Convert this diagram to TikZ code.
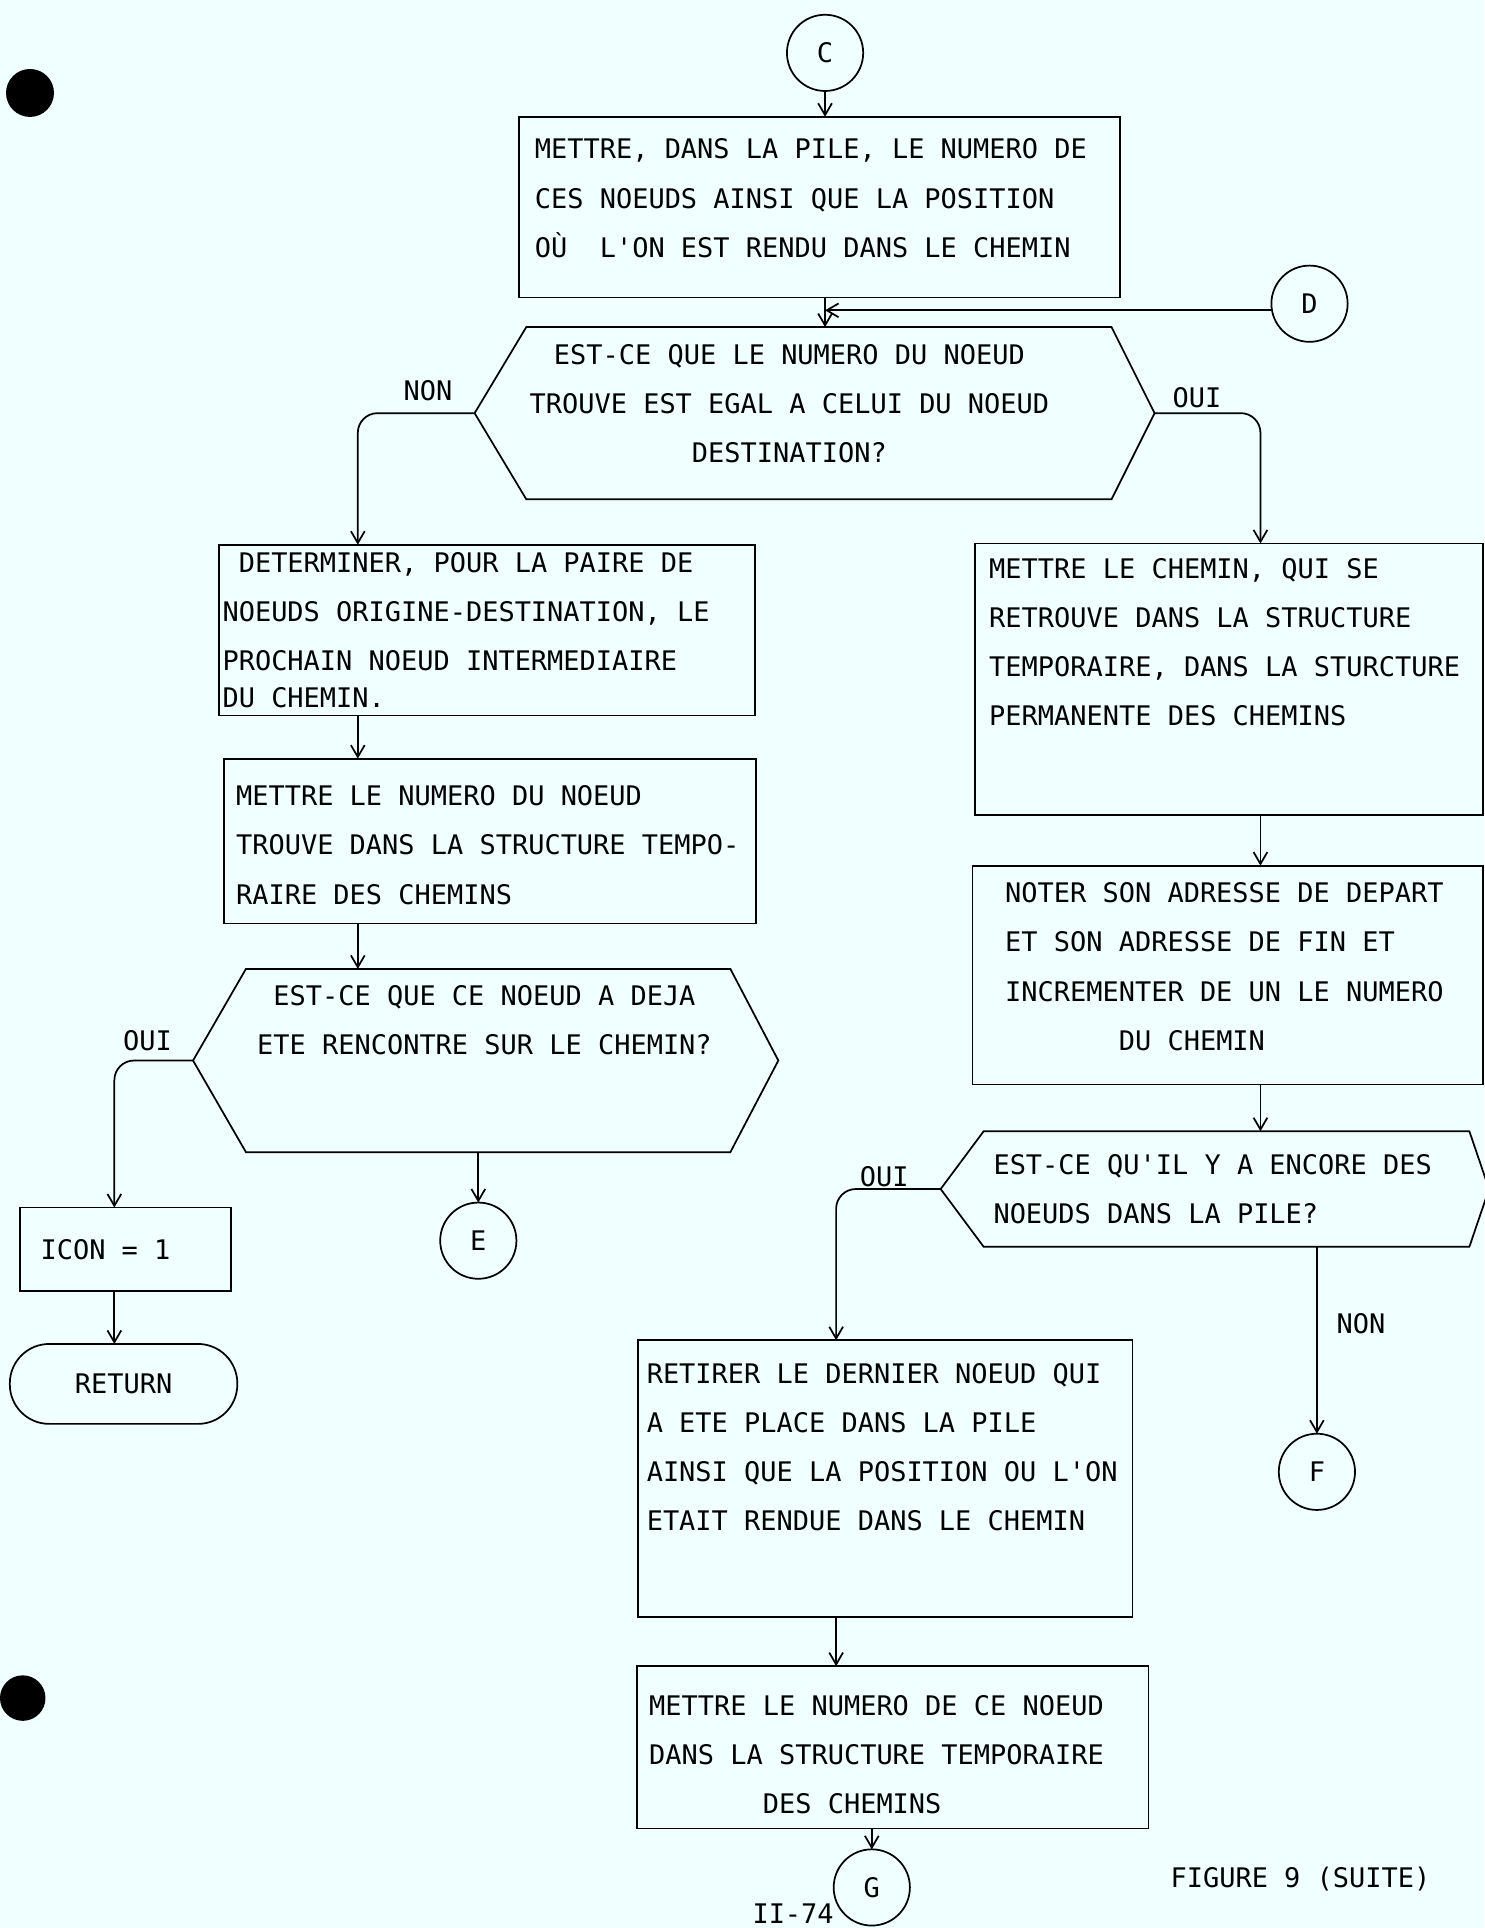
\documentclass[tikz,border=0pt]{standalone}
\usepackage{fontspec}
\setmonofont{DejaVu Sans Mono}
\usetikzlibrary{positioning,calc,arrows.meta}
\definecolor{paper}{HTML}{F0FFFF}

\begin{document}
\begin{tikzpicture}[every node/.style={outer sep=0pt},line width=1pt,
		font=\ttfamily\fontsize{15.6pt}{28.4pt}\selectfont,
		>={Straight Barb[length=2.4mm,width=2.8mm]},
		box/.style={draw,rectangle,inner sep=0pt,align=flush left},
		decision/.style={rectangle,inner sep=0pt},
		txt/.style={inner sep=0pt},
		lbl/.style={inner sep=1mm},
		conn/.style={draw,circle,minimum size=1.55cm,inner sep=0pt},
		terminal/.style={draw,rectangle,rounded corners=0.8cm,inner sep=0pt},
		hole/.style={fill=black,draw=none},
		]
		\fill[paper] (0,0) rectangle (30.175,-39.2);
		\useasboundingbox (0,0) rectangle (30.175,-39.2);
		\path[hole] (0.61,-1.89) circle (0.4875);
		\path[hole] (0.4625,-34.525) circle (0.4625);

		\node[conn] (c) at (16.775,-1.075) {C};
		\node[box,minimum width=12.225cm,minimum height=3.675cm,text width=11.575cm] (b1) at (16.6625,-4.2125)
			{METTRE, DANS LA PILE, LE NUMERO DE\\CES NOEUDS AINSI QUE LA POSITION\\OÙ\ \ L'ON EST RENDU DANS LE CHEMIN\\[-6.25mm]~};
		\node[conn] (d) at (26.625,-6.175) {D};

		\node[decision,minimum width=11.9cm,minimum height=3.5cm] (q1) at (16.65,-8.4) {};
		\coordinate (q1l) at ($(q1.west)+(-1.05,0)$);
		\coordinate (q1r) at ($(q1.east)+(0.875,0)$);
		\draw (q1.north west) -- (q1.north east) -- (q1r) -- (q1.south east) -- (q1.south west) -- (q1l) -- cycle;
		\node[txt,align=center] (q1t) at ($(q1)+(-0.6,0.2)$)
			{EST-CE QUE LE NUMERO DU NOEUD\\TROUVE EST EGAL A CELUI DU NOEUD\\DESTINATION?};

		% branche NON
		\node[box,minimum width=10.9cm,minimum height=3.475cm,text width=10.75cm] (b2) at (9.9,-12.8125)
			{~DETERMINER, POUR LA PAIRE DE\\NOEUDS ORIGINE-DESTINATION, LE\\PROCHAIN NOEUD INTERMEDIAIRE\\[-7.1pt]DU CHEMIN.};
		\coordinate (b2n) at ($(b2.north)+(-2.625,0)$);
		\node[box,minimum width=10.825cm,minimum height=3.35cm,text width=10.325cm] (b3) at (9.9625,-17.1)
			{~\\[-4.25mm]METTRE LE NUMERO DU NOEUD\\TROUVE DANS LA STRUCTURE TEMPO-\\RAIRE DES CHEMINS};
		\node[decision,minimum width=9.85cm,minimum height=3.725cm] (q2) at (9.925,-21.5625) {};
		\coordinate (q2l) at ($(q2.west)+(-1.075,0)$);
		\coordinate (q2r) at ($(q2.east)+(0.975,0)$);
		\draw (q2.north west) -- (q2.north east) -- (q2r) -- (q2.south east) -- (q2.south west) -- (q2l) -- cycle;
		\node[txt,align=center] (q2t) at ($(q2)+(-0.075,0.8125)$)
			{EST-CE QUE CE NOEUD A DEJA\\ETE RENCONTRE SUR LE CHEMIN?};
		\node[box,minimum width=4.3cm,minimum height=1.7cm,text width=3.45cm] (icon) at (2.55,-25.4) {ICON = 1};
		\node[terminal,minimum width=4.625cm,minimum height=1.625cm] (ret) at (2.5125,-28.1375) {RETURN};
		\node[conn] (e) at (9.725,-25.225) {E};

		% branche OUI
		\node[box,minimum width=10.325cm,minimum height=5.525cm,text width=9.75cm] (b5) at (24.9875,-13.8125)
			{METTRE LE CHEMIN, QUI SE\\RETROUVE DANS LA STRUCTURE\\TEMPORAIRE, DANS LA STURCTURE\\PERMANENTE DES CHEMINS\\[5.25mm]~};
		\coordinate (b5n) at ($(b5.north)+(0.64,0)$);
		\node[box,minimum width=10.375cm,minimum height=4.45cm,text width=9.05cm] (b6) at (24.9625,-19.825)
			{NOTER SON ADRESSE DE DEPART\\ET SON ADRESSE DE FIN ET\\INCREMENTER DE UN LE NUMERO\\~~~~~~~DU CHEMIN\\[-6.5mm]~};
		\node[decision,minimum width=9.875cm,minimum height=2.35cm] (q3) at (24.9375,-24.175) {};
		\coordinate (q3l) at ($(q3.west)+(-0.875,0)$);
		\coordinate (q3r) at ($(q3.east)+(0.4,0)$);
		\draw (q3.north west) -- (q3.north east) -- (q3r) -- (q3.south east) -- (q3.south west) -- (q3l) -- cycle;
		\node[txt,text width=9.475cm,align=flush left] (q3t) at (q3)
			{EST-CE QU'IL Y A ENCORE DES\\NOEUDS DANS LA PILE?};
		\node[conn] (f) at (26.775,-29.925) {F};
		\node[box,minimum width=10.05cm,minimum height=5.625cm,text width=9.7cm] (b7) at (18.0,-30.0625)
			{RETIRER LE DERNIER NOEUD QUI\\A ETE PLACE DANS LA PILE\\AINSI QUE LA POSITION OU L'ON\\ETAIT RENDUE DANS LE CHEMIN\\[3mm]~};
		\coordinate (b7n) at ($(b7.north)+(-1,0)$);
		\node[box,minimum width=10.4cm,minimum height=3.3cm,text width=9.9cm] (b8) at (18.15,-35.525)
			{~\\[-3mm]METTRE LE NUMERO DE CE NOEUD\\DANS LA STRUCTURE TEMPORAIRE\\~~~~~~~DES CHEMINS};
		\node[conn] (g) at (17.725,-38.375) {G};

		\node[txt,anchor=base west] (fig) at (23.8,-38.375) {FIGURE 9 (SUITE)};
		\node[txt,anchor=base west] (page) at (15.3,-39.1) {II-74};

		% liaisons
		\draw[->] (c) -- (c |- b1.north);
		\draw[->] (b1.south -| c) -- (q1.north -| c);
		\draw[->] (d.190) -- (d.190 -| c);
		\draw[->,rounded corners=4mm] (q1l) -| node[pos=0.2,lbl,above=1.5mm] (non1) {NON} (b2n);
		\draw[->,rounded corners=4mm] (q1r) -| node[pos=0.2,lbl,above] (oui1) {OUI} (b5n);
		\draw[->] (b2.south -| b2n) -- (b3.north -| b2n);
		\draw[->] (b3.south -| b2n) -- (q2.north -| b2n);
		\draw[->,rounded corners=4mm] (q2l) -| node[pos=0.29,lbl,above=1mm] (oui2) {OUI} ([xshift=-0.225cm]icon.north);
		\draw[->] ([xshift=-0.225cm]icon.south) -- ([xshift=-0.225cm]icon.south |- ret.north);
		\draw[->] (q2.south -| e) -- (e);
		\draw[->] (b5.south -| b5n) -- (b6.north -| b5n);
		\draw[->] (b6.south -| b5n) -- (q3.north -| b5n);
		\draw[->,rounded corners=4mm] (q3l) -| node[pos=0.27,lbl,inner sep=0.5mm,above] (oui3) {OUI} (b7n);
		\draw[->] (q3.south -| f) -- node[pos=0.41,lbl,right=3mm] (non2) {NON} (f);
		\draw[->] (b7.south -| b7n) -- (b8.north -| b7n);
		\draw[->] (b8.south -| g) -- (g);
	\end{tikzpicture}
\end{document}
